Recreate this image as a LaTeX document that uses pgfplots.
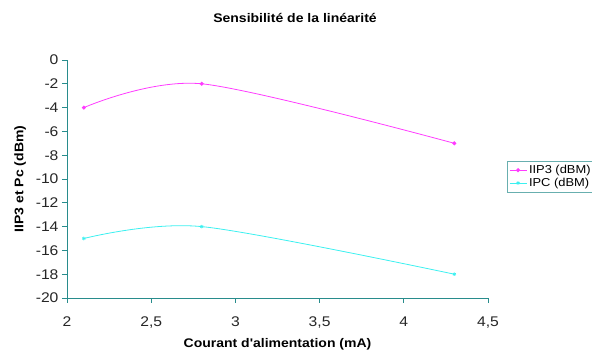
\documentclass[border=0pt]{standalone}
\usepackage{pgfplots}
\pgfplotsset{compat=1.18}
\usepackage{fontspec}
\setmainfont{Liberation Sans}[FakeStretch=1.12, Ligatures=TeXOff]
\definecolor{axteal}{RGB}{40,140,140}
\definecolor{iipc}{RGB}{255,60,255}
\definecolor{ipcc}{RGB}{60,240,240}

\begin{document}
\begin{tikzpicture}[x=1pt,y=1pt]
  \useasboundingbox (-67,-54) rectangle (525,298);
  \begin{axis}[
    scale only axis,
    width=421pt, height=238pt,
    xmin=2, xmax=4.5, ymin=-20, ymax=0,
    xtick={2,2.5,...,4.5}, ytick={-20,-18,...,0},
    axis x line*=bottom, axis y line*=left,
    axis line style={axteal, line width=0.8pt},
    tick style={axteal, line width=0.8pt},
    tick align=outside, major tick length=5pt,
    /pgf/number format/use comma,
    /pgf/number format/assume math mode=true,
    ticklabel style={font=\fontsize{14}{16}\selectfont, text=black!85},
    xticklabel style={yshift=-10pt},
    xlabel={\bfseries Courant d'alimentation (mA)},
    ylabel={\bfseries IIP3 et Pc (dBm)},
    label style={font=\fontsize{12.5}{14}\selectfont},
    xlabel style={yshift=-3pt},
    ylabel style={yshift=3pt},
    legend style={at={(1.045,0.51)}, anchor=west, draw=axteal!70,
      font=\fontsize{11.5}{13}\selectfont, inner sep=2pt,
      row sep=-1pt},
    legend cell align=left,
  ]
    \addplot[iipc, line width=0.8pt, smooth, mark=*, mark size=1.6pt,
      mark options={solid}] coordinates {(2.1,-4) (2.8,-2) (4.3,-7)};
    \addlegendentry{IIP3 (dBM)}
    \addplot[ipcc, line width=0.8pt, smooth, mark=asterisk, mark size=1.8pt]
      coordinates {(2.1,-15) (2.8,-14) (4.3,-18)};
    \addlegendentry{IPC (dBM)}
  \end{axis}
  \node[font=\fontsize{12.5}{14}\selectfont\bfseries] at (228,280) {Sensibilité de la linéarité};
\end{tikzpicture}
\end{document}
